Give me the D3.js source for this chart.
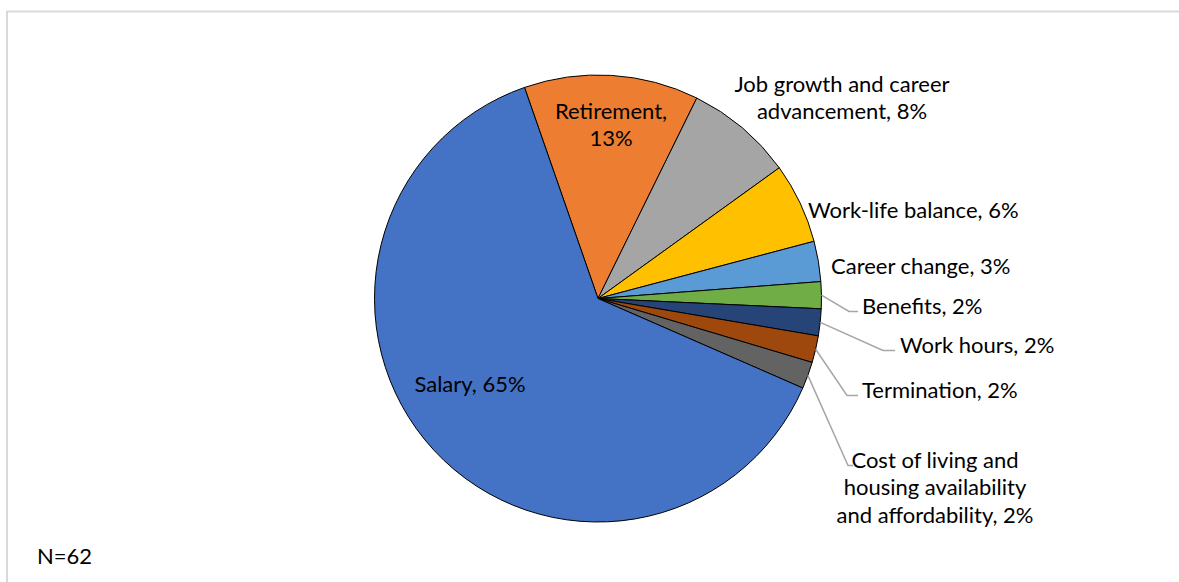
<!DOCTYPE html>
<html>
<head>
<meta charset="utf-8">
<script src="https://cdn.jsdelivr.net/npm/d3@7"></script>
<style>
  html, body { margin: 0; padding: 0; background: #fff; }
  svg text { font-family: Lato, "Open Sans", sans-serif; fill: #000; }
</style>
</head>
<body>
<svg id="chart" width="1179" height="582"></svg>
<script>
// Reasons given (share of respondents), clockwise from Retirement
const categories = [
  "Retirement", "Job growth and career advancement", "Work-life balance",
  "Career change", "Benefits", "Work hours", "Termination",
  "Cost of living and housing availability and affordability", "Salary"
];
const percents = [13, 8, 6, 3, 2, 2, 2, 2, 65];
const colors = ["#ED7D31", "#A5A5A5", "#FFC000", "#5B9BD5", "#70AD47",
                "#264478", "#9E480E", "#636363", "#4472C4"];
const labelLines = [
  ["Retirement,", "13%"],
  ["Job growth and career", "advancement, 8%"],
  ["Work-life balance, 6%"],
  ["Career change, 3%"],
  ["Benefits, 2%"],
  ["Work hours, 2%"],
  ["Termination, 2%"],
  ["Cost of living and", "housing availability", "and affordability, 2%"],
  ["Salary, 65%"]
];
const sampleNote = "N=62";

const svg = d3.select("#chart");
const W = 1179, H = 582;

// Chart frame
svg.append("line").attr("x1", 6).attr("x2", W).attr("y1", 11.5).attr("y2", 11.5)
  .attr("stroke", "#d9d9d9").attr("stroke-width", 2);
svg.append("line").attr("x1", 7).attr("x2", 7).attr("y1", 11).attr("y2", H)
  .attr("stroke", "#d9d9d9").attr("stroke-width", 2);

const cx = 598, cy = 298.5, R = 223.5;
const g = svg.append("g").attr("transform", `translate(${cx},${cy})`);

const pie = d3.pie().sort(null).value(d => d)
  .startAngle(-19.2 * Math.PI / 180)
  .endAngle((360 - 19.2) * Math.PI / 180);
const arcs = pie(percents);
const arc = d3.arc().innerRadius(0).outerRadius(R);

g.selectAll("path.slice").data(arcs).enter().append("path")
  .attr("class", "slice")
  .attr("d", arc)
  .attr("fill", (d, i) => colors[i])
  .attr("stroke", "#000").attr("stroke-width", 1);

// Label placement: anchor, x, y of first line (page coordinates)
const fs = 22, lh = 27.5;
const placement = [
  {anchor: "middle", x: 611, y: 110},
  {anchor: "middle", x: 842, y: 83},
  {anchor: "start",  x: 808, y: 209},
  {anchor: "start",  x: 831, y: 265},
  {anchor: "start",  x: 862, y: 305, leader: [849, 858]},
  {anchor: "start",  x: 900, y: 344, leader: [883, 895]},
  {anchor: "start",  x: 862, y: 389, leader: [847, 858]},
  {anchor: "middle", x: 935, y: 459, leader: [848, 853]},
  {anchor: "middle", x: 470, y: 383}
];

// Leader lines for the small slices
arcs.forEach((a, i) => {
  const p = placement[i];
  if (!p.leader) return;
  const mid = (a.startAngle + a.endAngle) / 2;
  const sx = cx + R * Math.sin(mid), sy = cy - R * Math.cos(mid);
  const ly = p.y + 6.5;
  svg.append("polyline")
    .attr("points", `${sx},${sy} ${p.leader[0]},${ly} ${p.leader[1]},${ly}`)
    .attr("fill", "none").attr("stroke", "#a6a6a6").attr("stroke-width", 1.5);
});

placement.forEach((p, i) => {
  const t = svg.append("text")
    .attr("text-anchor", p.anchor)
    .attr("font-size", fs);
  labelLines[i].forEach((line, k) => {
    t.append("tspan").attr("x", p.x).attr("y", p.y + k * lh)
      .attr("dominant-baseline", "central").text(line);
  });
});

svg.append("text").attr("x", 37).attr("y", 555)
  .attr("dominant-baseline", "central").attr("font-size", fs).text(sampleNote);
</script>
</body>
</html>
